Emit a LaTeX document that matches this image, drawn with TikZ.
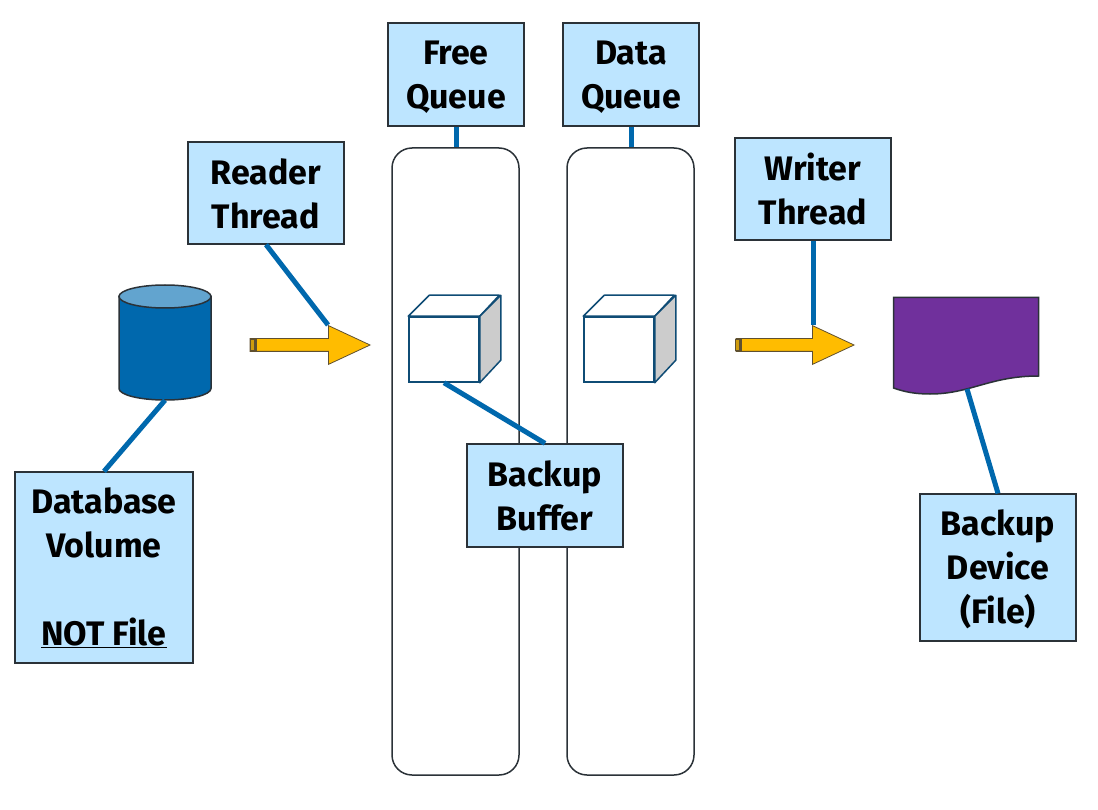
\documentclass[tikz,border=0pt]{standalone}
\usepackage{fontspec}
\setmainfont{Fira Sans}
\usetikzlibrary{positioning, shapes.arrows, calc}
\pgfdeclarelayer{background}
\pgfsetlayers{background,main}
\definecolor{boxblue}{HTML}{BDE5FF}
\definecolor{leadblue}{HTML}{0068AD}
\definecolor{edgedark}{HTML}{2B3238}
\definecolor{cubeedge}{HTML}{0F4C75}
\definecolor{drumtop}{HTML}{62A4CF}
\definecolor{arrowgold}{HTML}{FFBC00}
\definecolor{arrowedge}{HTML}{5F5030}
\definecolor{docpurple}{HTML}{70309C}
\tikzset{
    labelbox/.style={rectangle, draw=edgedark, fill=boxblue, line width=1.3pt, align=center,
      font=\fontsize{34}{44}\selectfont\bfseries, text=black, inner sep=0pt, minimum width=156pt},
    lowertext/.style={execute at begin node=\rule{0pt}{#1}},
    leader/.style={draw=leadblue, line width=5pt},
    lane/.style={rectangle, rounded corners=20pt, draw=edgedark, line width=1.5pt, fill=white,
      minimum width=127pt, minimum height=627pt},
    flow/.style={single arrow, draw=arrowedge, fill=arrowgold, line width=0.8pt, inner xsep=0pt, inner ysep=6pt,
      single arrow head indent=0pt, single arrow tip angle=50, single arrow head extend=13pt,
      minimum height=118pt, minimum width=38pt, anchor=tip},
    bufcube/.pic = {
    \node[rectangle, draw=cubeedge, fill=white, line width=1.5pt, minimum width=70pt, minimum height=65pt, inner sep=0pt] (-front) at (0,0) {};
    \draw[draw=cubeedge, fill=white, line width=1.5pt, line join=round] (-front.north west) -- ++(21,-21) -- ++(70,0) -- (-front.north east) -- cycle;
    \draw[draw=cubeedge, fill=black!20, line width=1.5pt, line join=round] (-front.north east) -- ++(21,-21) -- ++(0,65) -- (-front.south east) -- cycle;
    },
    datadrum/.pic = {
    \node[rectangle, minimum width=92pt, minimum height=115pt, inner sep=0pt] (-body) at (0,0) {};
    \draw[draw=edgedark, fill=leadblue, line width=1.5pt] (-46,-46) -- (-46,46) arc[start angle=180, end angle=360, x radius=46pt, y radius=11.5pt] -- (46,-46) -- cycle;
    \draw[draw=edgedark, fill=drumtop, line width=1.5pt] (0,-46) ellipse[x radius=46pt, y radius=11.5pt];
    },
}
\begin{document}
\begin{tikzpicture}[x=1pt, y=-1pt]
    \useasboundingbox (0,0) rectangle (1098,810);

    \node[labelbox, lowertext=73.4pt, minimum width=136pt, minimum height=103pt] (freeq) at (456,74.5) {Free\\Queue};
    \node[labelbox, lowertext=73.4pt, minimum width=136pt, minimum height=103pt, right=37.7pt of freeq] (dataq) {Data\\Queue};
    \node[labelbox, lowertext=71pt, minimum height=102pt] (reader) at (266,193) {Reader\\Thread};
    \node[labelbox, minimum height=102pt] (writer) at (813,189) {Writer\\Thread};
    \node[labelbox, minimum width=178pt, minimum height=191pt] (dbvol) at (104,567.5) {Database\\Volume\\\mbox{}\\\underline{NOT File}};
    \node[labelbox, minimum height=103pt] (buffer) at (545,495.5) {Backup\\Buffer};
    \node[labelbox, lowertext=117.4pt, minimum height=147pt] (device) at (998,567.5) {Backup\\Device\\(File)};

    \begin{pgfonlayer}{background}
      \node[lane] (freelane) at (455.5,461.5) {};
      \node[lane, right=46.5pt of freelane] (datalane) {};
    \end{pgfonlayer}

    \pic (drum) at (165,342.5) {datadrum};

    \node[flow, minimum height=120pt] (readflow) at (371,345) {};
    \fill[arrowedge] (250,339) rectangle (257,351);
    \fill[arrowgold!70!arrowedge] (251,340) rectangle (254,350);
    \node[flow] (writeflow) at (855,345) {};
    \fill[arrowedge] (735,339) rectangle (742,351);
    \fill[arrowgold!70!arrowedge] (736,340) rectangle (739,350);

    \pic (freecube) at (444,349.5) {bufcube};
    \pic (datacube) at (619,349.5) {bufcube};

    \draw[draw=edgedark, fill=docpurple, line width=1.5pt] (893.5,297.5) -- (1038.5,297.5) -- (1038.5,376)
      .. controls (990,376) and (970,394) .. (930,394) .. controls (915,394) and (905,392) .. (893.5,388) -- cycle;
    \coordinate (docfoot) at (967,389);

    \draw[leader] (freeq.south) -- (freeq.south |- freelane.north);
    \draw[leader] (dataq.south) -- (dataq.south |- datalane.north);
    \draw[leader] (reader.south) -- (readflow.before tip);
    \draw[leader] (writer.south) -- (writer.south |- writeflow.before tip);
    \draw[leader] (drum-body.south) -- (dbvol.north);
    \draw[leader] (freecube-front.south) -- (buffer.north);
    \draw[leader] (docfoot) -- (device.north);
\end{tikzpicture}
\end{document}
